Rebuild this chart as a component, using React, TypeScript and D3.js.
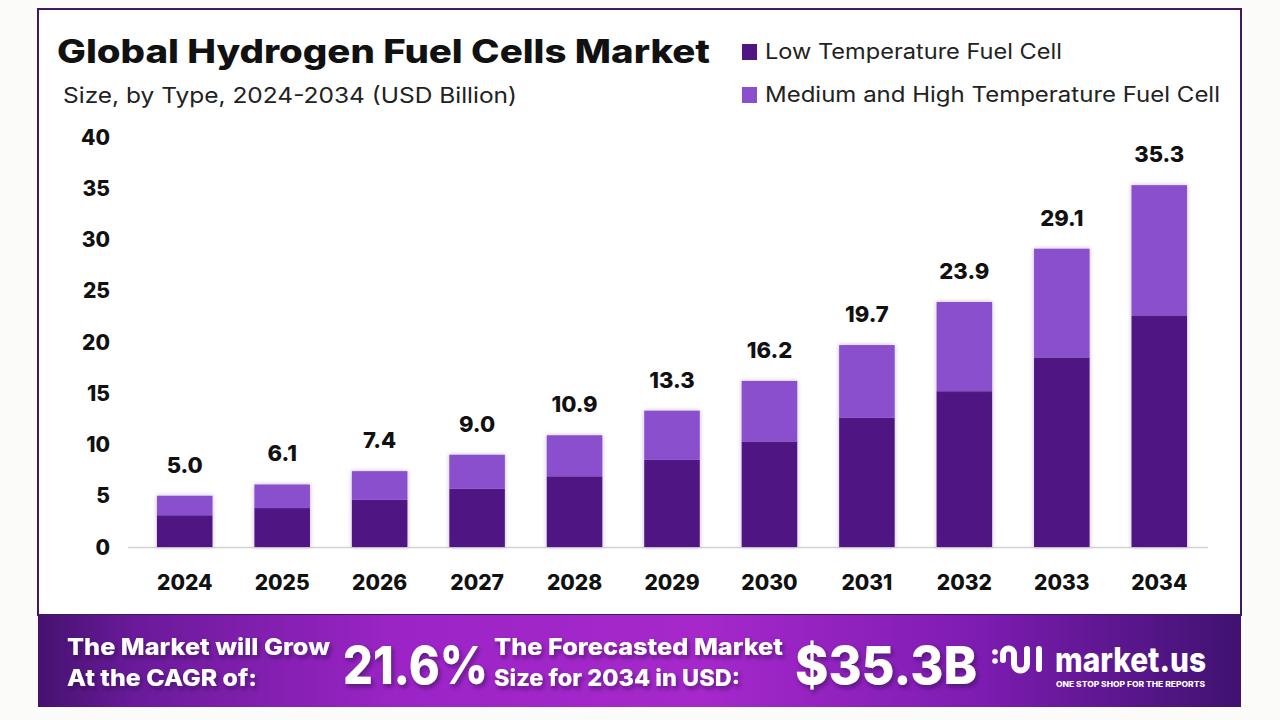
import React from "react";
import * as d3 from "d3";

const years = ["2024", "2025", "2026", "2027", "2028", "2029", "2030", "2031", "2032", "2033", "2034"];
const lowTemp = [3.1, 3.8, 4.6, 5.7, 6.9, 8.5, 10.3, 12.6, 15.2, 18.5, 22.6];
const highTemp = [1.9, 2.3, 2.8, 3.3, 4.0, 4.8, 5.9, 7.1, 8.7, 10.6, 12.7];
const totals = [5.0, 6.1, 7.4, 9.0, 10.9, 13.3, 16.2, 19.7, 23.9, 29.1, 35.3];
const yTicks = [0, 5, 10, 15, 20, 25, 30, 35, 40];
const seriesNames = ["Low Temperature Fuel Cell", "Medium and High Temperature Fuel Cell"];
const seriesColors = ["#4f1683", "#8a4fcc"];

const W = 1280;
const H = 720;
const numFont = "Inter, 'Liberation Sans', Arial, sans-serif";
const headFont = "Inter, 'Open Sans', sans-serif";

const App: React.FC = () => {
  const x = d3
    .scaleBand<string>()
    .domain(years)
    .range([136, 1208])
    .paddingInner(0.43)
    .paddingOuter(0.215);
  const y = d3.scaleLinear().domain([0, 40]).range([547, 137]);

  const rows = years.map((yr, i) => ({ year: yr, low: lowTemp[i], high: highTemp[i] }));
  const stacked = d3.stack<(typeof rows)[number]>().keys(["low", "high"])(rows);

  return (
    <svg
      width={W}
      height={H}
      viewBox={`0 0 ${W} ${H}`}
      style={{ position: "fixed", left: 0, top: 0, background: "#fbfbf9" }}
    >
      <defs>
        <linearGradient id="band" x1="0" x2="1" y1="0" y2="0">
          <stop offset="0" stopColor="#45126f" />
          <stop offset="0.08" stopColor="#6a1a9a" />
          <stop offset="0.3" stopColor="#9c24c6" />
          <stop offset="0.55" stopColor="#a628cb" />
          <stop offset="0.78" stopColor="#7e1cb2" />
          <stop offset="1" stopColor="#3f1270" />
        </linearGradient>
        <filter id="barShadow" x="-20%" y="-10%" width="140%" height="120%">
          <feDropShadow dx="0" dy="0" stdDeviation="2" floodColor="#5a2a8a" floodOpacity="0.35" />
        </filter>
        <filter id="txtShadow" x="-10%" y="-20%" width="130%" height="150%">
          <feDropShadow dx="2" dy="3" stdDeviation="2" floodColor="#2a0845" floodOpacity="0.55" />
        </filter>
      </defs>

      {/* frame */}
      <rect x={38} y={9} width={1203} height={606} fill="#ffffff" stroke="#3f1a5e" strokeWidth={2} />

      {/* title */}
      <text x={57} y={63} fontFamily={headFont} fontWeight={800} fontSize={32} fill="#111" textLength={653} lengthAdjust="spacingAndGlyphs">
        Global Hydrogen Fuel Cells Market
      </text>
      <text x={63} y={103} fontFamily={headFont} fontSize={22} fill="#222" textLength={454} lengthAdjust="spacingAndGlyphs">
        Size, by Type, 2024-2034 (USD Billion)
      </text>

      {/* legend */}
      {seriesNames.map((name, i) => (
        <g key={name} transform={`translate(742, ${44 + i * 43})`}>
          <rect width={15} height={16} fill={seriesColors[i]} />
          <text x={23} y={15} fontFamily={headFont} fontSize={21} fill="#222" textLength={i === 0 ? 297 : 455} lengthAdjust="spacingAndGlyphs">
            {name}
          </text>
        </g>
      ))}

      {/* y axis labels */}
      {yTicks.map((t) => (
        <text key={t} x={110} y={y(t)} dy="0.36em" textAnchor="end" fontFamily={numFont} fontWeight={800} fontSize={21} fill="#111">
          {t}
        </text>
      ))}

      {/* baseline */}
      <line x1={128} x2={1208} y1={y(0) + 0.5} y2={y(0) + 0.5} stroke="#d4d4d4" strokeWidth={1.5} />

      {/* bars */}
      {stacked.map((s, si) => (
        <g key={s.key} fill={seriesColors[si]} filter="url(#barShadow)">
          {s.map((d) => (
            <rect
              key={d.data.year}
              x={x(d.data.year)}
              y={y(d[1])}
              width={x.bandwidth()}
              height={y(d[0]) - y(d[1])}
            />
          ))}
        </g>
      ))}

      {/* totals */}
      {years.map((yr, i) => (
        <text
          key={yr}
          x={(x(yr) ?? 0) + x.bandwidth() / 2}
          y={y(totals[i]) - 23}
          textAnchor="middle"
          fontFamily={numFont}
          fontWeight={800}
          fontSize={22}
          fill="#111"
        >
          {totals[i].toFixed(1)}
        </text>
      ))}

      {/* x labels */}
      {years.map((yr) => (
        <text
          key={yr}
          x={(x(yr) ?? 0) + x.bandwidth() / 2}
          y={590}
          textAnchor="middle"
          fontFamily={numFont}
          fontWeight={800}
          fontSize={21}
          fill="#111"
        >
          {yr}
        </text>
      ))}

      {/* bottom banner */}
      <rect x={38} y={615} width={1203} height={92} fill="url(#band)" />
      <g fontFamily={headFont} fontWeight={800} fill="#ffffff" filter="url(#txtShadow)">
        <text x={67} y={655} fontSize={23} textLength={263} lengthAdjust="spacingAndGlyphs">The Market will Grow</text>
        <text x={67} y={686} fontSize={23} textLength={190} lengthAdjust="spacingAndGlyphs">At the CAGR of:</text>
        <text x={343} y={684} fontSize={52} textLength={145} lengthAdjust="spacingAndGlyphs">21.6%</text>
        <text x={494} y={655} fontSize={23} textLength={289} lengthAdjust="spacingAndGlyphs">The Forecasted Market</text>
        <text x={494} y={686} fontSize={23} textLength={246} lengthAdjust="spacingAndGlyphs">Size for 2034 in USD:</text>
        <text x={795} y={684} fontSize={52} textLength={182} lengthAdjust="spacingAndGlyphs">$35.3B</text>
      </g>

      {/* logo */}
      <g stroke="#ffffff" strokeWidth={6} strokeLinecap="round" fill="none">
        <path d="M1003,660 V654 a5.5,5.5 0 0 1 11,0 V664 a6.5,6.5 0 0 0 13,0 V649" />
        <line x1={1039} y1={649} x2={1039} y2={669} />
      </g>
      <circle cx={995} cy={652} r={2.8} fill="#fff" />
      <circle cx={995} cy={661} r={2.8} fill="#fff" />
      <text x={1055} y={672} fontFamily={headFont} fontWeight={800} fontSize={34} fill="#fff" textLength={151} lengthAdjust="spacingAndGlyphs">
        market.us
      </text>
      <text x={1056} y={687} fontFamily={headFont} fontWeight={800} fontSize={7.5} fill="#fff" textLength={149} lengthAdjust="spacingAndGlyphs">
        ONE STOP SHOP FOR THE REPORTS
      </text>
    </svg>
  );
};

export default App;
